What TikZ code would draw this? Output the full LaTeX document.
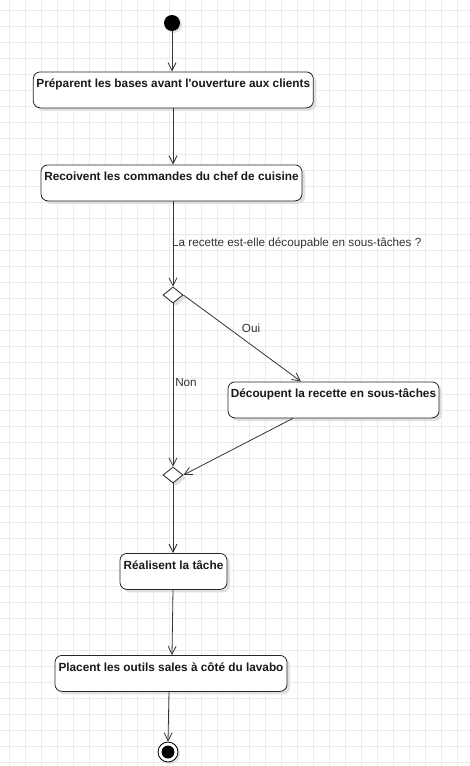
\documentclass[tikz,border=0pt]{standalone}
\usepackage{fontspec}
\setmainfont{Liberation Sans}
\usetikzlibrary{arrows.meta,shadows,shapes.geometric}
\definecolor{gridc}{HTML}{EBEBEB}
\definecolor{labc}{HTML}{333333}
\tikzset{
  actbox/.style={draw=black!85, line width=0.8pt, fill=white, rounded corners=7pt,
    inner xsep=0pt, inner ysep=0pt, text height=16pt, text depth=20pt,
    font=\bfseries\fontsize{11.8}{14}\selectfont, text=black!90,
    drop shadow={shadow xshift=3pt, shadow yshift=-3pt, fill=black!12, opacity=1}},
  decision/.style={draw=black!85, line width=0.8pt, fill=white, shape=diamond, minimum width=20pt, minimum height=16pt, inner sep=0pt,
    drop shadow={shadow xshift=3pt, shadow yshift=-3pt, fill=black!12, opacity=1}},
  flow/.style={draw=black!80, line width=0.8pt, -{Straight Barb[length=8pt,width=8pt,line width=0.8pt]}},
  glabel/.style={font=\fontsize{11.7}{14}\selectfont, text=labc, inner sep=0pt},
}
\begin{document}
\begin{tikzpicture}[x=1pt,y=-1pt]
\useasboundingbox (0,0) rectangle (470,766);
\fill[white] (0,0) rectangle (470,766);
\foreach \i in {0,...,29} {\draw[gridc, line width=0.8pt] (9.5+16*\i,0) -- (9.5+16*\i,766);}
\foreach \j in {0,...,47} {\draw[gridc, line width=0.8pt] (0,10.5+16*\j) -- (470,10.5+16*\j);}

\node[circle, fill=black, minimum size=16pt, inner sep=0pt,
  drop shadow={shadow xshift=2pt, shadow yshift=-2pt, fill=black!12, opacity=1}] (start) at (172,23) {};

\node[actbox, minimum width=280pt, anchor=north] (b1) at (173.3,71.5) {Préparent les bases avant l\textquotesingle ouverture aux clients};
\node[actbox, minimum width=261pt, anchor=north] (b2) at (171.5,164.5) {Recoivent les commandes du chef de cuisine};
\node[decision] (d1) at (173,295) {};
\node[actbox, minimum width=211pt, anchor=north] (b3) at (333.5,381.5) {Découpent la recette en sous-tâches};
\node[decision] (d2) at (173,475) {};
\node[actbox, minimum width=107pt, anchor=north] (b4) at (173.5,553) {Réalisent la tâche};
\node[actbox, minimum width=232pt, anchor=north] (b5) at (171,655) {Placent les outils sales à côté du lavabo};

\node[circle, draw=black, line width=0.8pt, fill=white, minimum size=20pt, inner sep=0pt,
  drop shadow={shadow xshift=2pt, shadow yshift=-2pt, fill=black!12, opacity=1}] (end) at (168,752) {};
\node[circle, fill=black, minimum size=13pt, inner sep=0pt] (endin) at (end) {};

\draw[flow] (start) -- (b1.north -| start);
\draw[flow] (b1.south -| d1) -- (b2.north -| d1);
\draw[flow] (b2.south -| d1) -- (d1.north);
\draw[flow] (d1.east) -- (b3.north -| 301,0);
\draw[flow] (d1.south) -- (d2.north);
\draw[flow] (b3.south -| 293,0) -- (d2.east);
\draw[flow] (d2.south) -- (b4.north -| d2);
\draw[flow] (b4.south -| d2) -- (b5.north -| 172,0);
\draw[flow] (b5.south -| 169,0) -- (end.north);

\node[glabel, anchor=west] (q) at (172,243) {La recette est-elle découpable en sous-tâches ?};
\node[glabel] (oui) at (251,328) {Oui};
\node[glabel] (non) at (186,383) {Non};
\end{tikzpicture}
\end{document}
